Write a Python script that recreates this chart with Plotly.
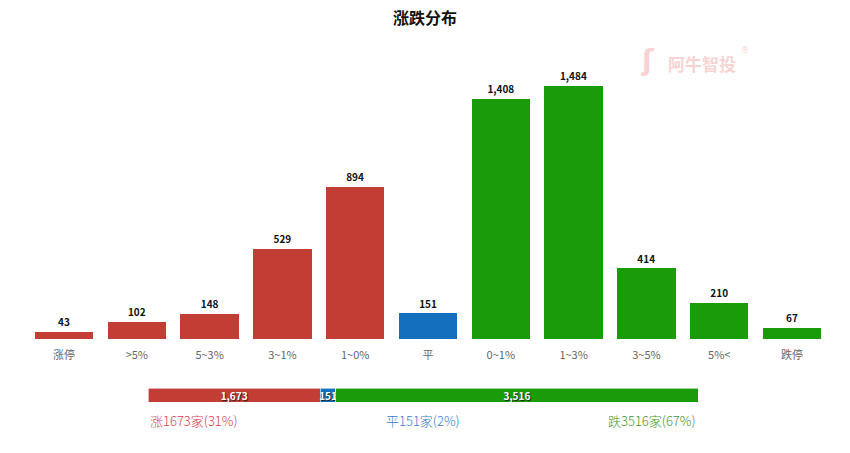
import plotly.graph_objects as go

categories = ["涨停", ">5%", "5~3%", "3~1%", "1~0%", "平", "0~1%", "1~3%", "3~5%", "5%<", "跌停"]
values = [43, 102, 148, 529, 894, 151, 1408, 1484, 414, 210, 67]
bar_groups = ["up"] * 5 + ["flat"] + ["down"] * 5

summary_names = ["涨", "平", "跌"]
summary_values = [1673, 151, 3516]
summary_pcts = ["31%", "2%", "67%"]

RED = "#c23d33"
BLUE = "#1470be"
GREEN = "#1a9b0a"
cmap = {"up": RED, "flat": BLUE, "down": GREEN}
scolors = [RED, BLUE, GREEN]
label_colors = ["#d9404a", "#3b7cc8", "#3e9a22"]

W, H = 850, 453
def px(x): return x / W
def py(y): return (H - y) / H

fig = go.Figure()
fig.add_trace(go.Bar(
    x=categories, y=values,
    marker=dict(color=[cmap[g] for g in bar_groups], line=dict(width=0)),
    texttemplate="%{y:,}", textposition="outside",
    textfont=dict(family="Noto Sans CJK SC", size=11, color="#111", weight="bold"),
    cliponaxis=False, hoverinfo="x+y", showlegend=False,
    xaxis="x", yaxis="y",
))

for name, v, c in zip(summary_names, summary_values, scolors):
    fig.add_trace(go.Bar(
        y=[0], x=[v], orientation="h", width=1,
        marker=dict(color=c, line=dict(width=0.6, color="white")),
        text=[f"{v:,}"], textposition="inside", insidetextanchor="middle",
        textfont=dict(family="Noto Sans CJK SC", size=10, color="white", weight="bold",
                      shadow="1px 1px 1px #222"),
        constraintext="none",
        showlegend=False, name=name, xaxis="x2", yaxis="y2",
    ))

fig.update_layout(
    width=W, height=H,
    margin=dict(l=0, r=0, t=0, b=0),
    paper_bgcolor="white", plot_bgcolor="white",
    barmode="stack", bargap=0.2,
    uniformtext=dict(minsize=8, mode="show"),
    title=dict(text="<b>涨跌分布</b>", x=px(425), xanchor="center", y=py(18), yanchor="middle",
               font=dict(family="Noto Sans CJK SC", size=16, color="#111")),
    xaxis=dict(domain=[px(27.6), px(828.4)], showgrid=False, zeroline=False, showline=False,
               ticks="", ticklabelstandoff=8,
               tickfont=dict(family="Noto Sans CJK SC", size=11, color="#666"),
               fixedrange=True),
    yaxis=dict(domain=[py(339), py(60)], range=[0, 1636], visible=False, fixedrange=True),
    xaxis2=dict(domain=[px(148), px(698)], range=[0, sum(summary_values)], visible=False,
                anchor="y2", fixedrange=True),
    yaxis2=dict(domain=[py(402), py(388)], range=[-0.5, 0.5], visible=False, anchor="x2",
                fixedrange=True),
    font=dict(family="Noto Sans CJK SC"),
)

ann_pos = [(px(148), "left"), (px(423), "center"), (px(698), "right")]
for (xp, anc), name, v, p, c in zip(ann_pos, summary_names, summary_values, summary_pcts, label_colors):
    fig.add_annotation(x=xp, y=py(420), xref="paper", yref="paper", xanchor=anc, yanchor="middle",
                       text=f"{name}{v}家({p})", showarrow=False,
                       font=dict(family="Noto Sans CJK SC", size=13, color=c, weight=300))

# watermark
fig.add_annotation(x=px(702), y=py(63), xref="paper", yref="paper", xanchor="center", yanchor="middle",
                   text="<b>阿牛智投</b>", showarrow=False,
                   font=dict(family="Noto Sans CJK SC", size=17, color="#f7d3d3"))
fig.add_annotation(x=px(648), y=py(60), xref="paper", yref="paper", xanchor="center", yanchor="middle",
                   text="<b>ʃ</b>", showarrow=False,
                   font=dict(family="DejaVu Sans", size=28, color="#f7d3d3"))
fig.add_annotation(x=px(745), y=py(50), xref="paper", yref="paper", xanchor="center", yanchor="middle",
                   text="®", showarrow=False,
                   font=dict(family="DejaVu Sans", size=8, color="#f7d3d3"))

fig.write_html("out.html", config={"displayModeBar": False},
               post_script="document.body.style.margin='0';document.body.style.padding='0';")
